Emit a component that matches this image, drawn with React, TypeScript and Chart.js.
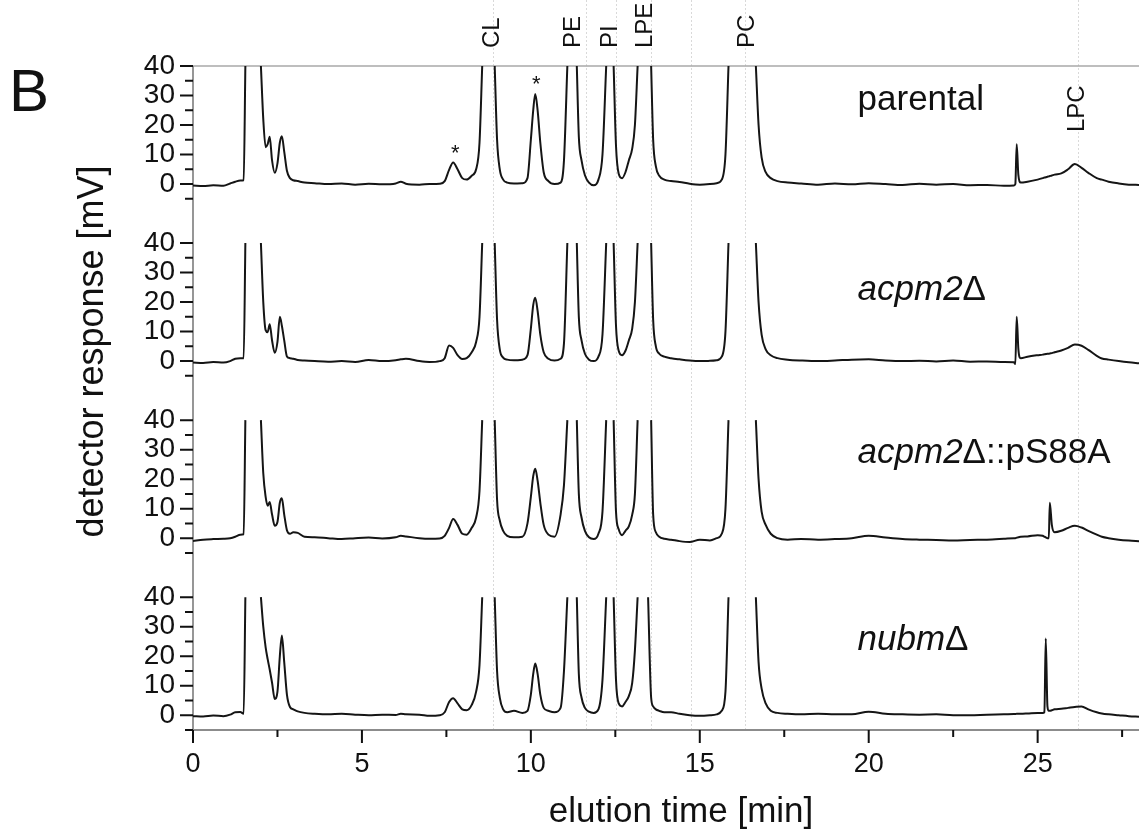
import React, { useEffect, useRef } from "react";
import { Chart, registerables } from "chart.js";

Chart.register(...registerables);

const FONT = '"Liberation Sans", Arial, Helvetica, sans-serif';

// elution time grid [min]
const time = [
  0, 0.3, 0.6, 0.9, 1.1, 1.25, 1.4, 1.5, 1.55,
  1.8,
  2.01, 2.08, 2.15, 2.21, 2.27, 2.34, 2.42, 2.5, 2.57, 2.63, 2.7, 2.78, 2.87, 2.97, 3.1, 3.3, 3.6,
  4.0, 4.4, 4.8, 5.2, 5.6, 6.0, 6.15, 6.3, 6.7, 7.0, 7.3,
  7.45, 7.58, 7.7, 7.83, 7.97, 8.1, 8.25, 8.38, 8.48, 8.56,
  8.75,
  8.93, 9.0, 9.08, 9.18, 9.3, 9.5, 9.75, 9.9, 10.0, 10.07, 10.13, 10.2, 10.28, 10.38, 10.52, 10.7, 10.88, 10.98, 11.08,
  11.22,
  11.36, 11.42, 11.5, 11.6, 11.72, 11.86, 12.0, 12.12, 12.23,
  12.34,
  12.45, 12.52, 12.6, 12.7, 12.8, 12.9, 13.0, 13.08, 13.16,
  13.36,
  13.47, 13.56, 13.62, 13.7, 13.8, 13.95, 14.15, 14.4, 14.7, 15.0, 15.3, 15.5, 15.65, 15.76, 15.85,
  16.25,
  16.66, 16.74, 16.83, 16.95, 17.1, 17.3, 17.6, 18.0, 18.5, 19.0, 19.5, 20.0, 20.5, 21.0, 21.5, 22.0, 22.5, 23.0, 23.5, 24.0, 24.3,
  24.34, 24.38, 24.43, 24.5, 24.7, 25.0, 25.15, 25.2, 25.24, 25.29, 25.33, 25.36, 25.42, 25.5,
  25.7, 25.9, 26.1, 26.3, 26.5, 26.75, 26.9, 27.1, 27.4, 27.7, 28.0,
];

// detector response [mV]; null = off scale (above 40 mV)
const parental = [
  -0.5, -0.7, -0.4, -0.6, 0.2, 0.8, 1.2, 1.3, 40,
  null,
  40, 22, 12.5, 13.5, 16, 8, 3.8, 7, 14, 16.2, 11, 4.5, 2, 1.3, 1, 0.5, 0.3,
  0, 0.2, -0.2, 0.1, -0.1, 0.2, 0.8, 0.1, -0.2, 0, 0.1,
  1, 4.8, 7.3, 5, 2, 1.5, 2.8, 5, 14, 40,
  null,
  40, 15, 5, 1.5, 0.5, 0.2, 0.3, 2, 15, 25, 30.5, 25, 14, 4, 1, 0, 0.5, 8, 40,
  null,
  40, 16, 8, 3, 0.5, -0.4, 1.5, 10, 40,
  null,
  40, 13, 3.5, 2, 4, 8, 12, 20, 40,
  null,
  null, 40, 15, 6, 2.8, 1.5, 1, 0.7, 0.1, -0.2, 0, 0.3, 1.5, 10, 40,
  null,
  40, 20, 9, 4, 2, 1, 0.5, 0.2, -0.2, 0.2, -0.1, 0.3, 0, -0.3, 0.1, -0.2, 0, -0.4, -0.3, -0.6, -0.5,
  0, 13.5, 3, 0.5, 0.8, 1.5, 2, 2.2, 2.3, 2.5, 2.6, 2.7, 2.9, 3.2,
  3.6, 5, 6.8, 5.5, 3.8, 2, 1.5, 0.8, 0.2, -0.2, -0.3,
];

const acpm2 = [
  -0.5, -0.6, -0.3, -0.5, 0, 0.8, 1, 1, 40,
  null,
  40, 20, 10.5, 9.8, 12.5, 7, 2.8, 6.5, 15, 12, 7, 1.6, 1, 0.8, 0.4, 0.2, 0,
  -0.2, 0, -0.3, 0.4, 0, 0.3, 0.6, 0.8, 0, -0.3, 0,
  1, 5.3, 4.5, 2, 0.7, 1, 3, 6.5, 15, 40,
  null,
  40, 14, 4, 1.2, 0.5, 0.3, 0.5, 2, 11, 19, 21.5, 17, 9, 3, 0.8, 0.2, 0.8, 6, 40,
  null,
  40, 15, 7, 2.5, 0.5, 0, 1.5, 9, 40,
  null,
  40, 12, 3.5, 2, 3.5, 7, 11, 20, 40,
  null,
  null, 40, 14, 5, 2.5, 1.5, 1, 0.6, 0.2, 0, 0.1, 0.3, 1.5, 10, 40,
  null,
  40, 20, 9, 4, 2, 1, 0.5, 0.2, 0, 0.2, 0.5, 0.6, 0.2, 0, 0.1, -0.1, 0.2, -0.2, -0.1, -0.3, -0.4,
  -1, 15, 4, 1, 1.5, 2, 2.2, 2.3, 2.4, 2.5, 2.5, 2.6, 2.7, 3,
  3.6, 4.5, 5.6, 5.2, 3.8, 1.8, 0.9, 0.5, 0, -0.4, -0.7,
];

const acpm2pS88A = [
  -1, -0.5, -0.3, -0.2, 0, 0.5, 1.2, 1.3, 40,
  null,
  40, 22, 14, 11, 12.3, 8, 4.2, 5.5, 12, 13.5, 8, 2.7, 1.5, 2, 1.8, 0.5, 0.3,
  0, -0.3, 0, 0.2, -0.1, 0.3, 0.8, 0.6, 0, -0.2, -0.1,
  0.8, 3.5, 6.5, 4.5, 1.5, 1.2, 3.5, 7, 16, 40,
  null,
  40, 13, 6, 2.5, 0.8, 0.3, 0.5, 5, 14, 21, 23.5, 19.5, 12, 4.5, 1.2, 0.5, 8, 18, 40,
  null,
  40, 15, 7, 2.5, 0.3, -0.3, 1.5, 9, 40,
  null,
  40, 9, 3, 1, 2.5, 4, 8, 15, 40,
  null,
  null, 40, 8, 2, 0.5, -0.2, -0.5, -1, -1.3, -0.5, -0.8, 0, 1.5, 10, 40,
  null,
  40, 20, 9, 4.5, 1.5, 0, -0.5, -0.3, -0.5, -0.3, 0, 0.8, 0.2, -0.3, -0.5, -0.6, -0.8, -0.6, -0.5, -0.2, 0,
  0, 0.2, 0.3, 0.5, 0.6, 1, 0.8, 0.5, 0.3, 0, 0, 12, 4.5, 2,
  2.5, 3.5, 4.2, 3.6, 2.5, 1.2, 0.5, 0, -0.5, -0.8, -1,
];

const nubm = [
  -0.3, -0.4, -0.1, -0.3, 0.2, 1, 1.1, 0.5, 40,
  null,
  40, 30, 23, 19, 15.5, 11, 5.5, 8, 20, 27, 18, 7, 2.8, 2, 1.3, 0.8, 0.5,
  0.3, 0.5, 0.2, 0, 0.2, 0.1, 0.5, 0.3, 0.2, -0.2, 0,
  1, 4.5, 5.8, 4, 2, 1.7, 3.5, 8, 17, 40,
  null,
  40, 15, 6, 2, 1, 1.5, 0.8, 1.5, 7, 14, 17.5, 14, 7, 2.5, 1.5, 1, 2.5, 15, 40,
  null,
  40, 14, 6, 2.5, 1.2, 0.8, 2, 12, 40,
  null,
  40, 12, 4, 3, 4.5, 6.5, 11, 22, 40,
  null,
  40, 6, 3, 2, 1.5, 1, 1, 0.5, 0, -0.2, 0, 0.3, 1.5, 8, 40,
  null,
  40, 18, 9, 4, 1.5, 0.8, 0.5, 0.3, 0.5, 0.3, 0.3, 1.2, 0.5, 0.3, 0.2, 0.3, 0, 0, 0.2, 0.3, 0.4,
  0.4, 0.5, 0.5, 0.5, 0.6, 0.8, 0.8, 1, 26, 3, 1.5, 1.5, 1.7, 2,
  2.2, 2.5, 2.8, 3, 2, 1, 0.6, 0.3, 0, -0.3, -0.5,
];

const panelSeries = [parental, acpm2, acpm2pS88A, nubm];

// panel labels: parts with italic flag
const panelLabels = [
  [{ t: "parental", i: false }],
  [{ t: "acpm2", i: true }, { t: "Δ", i: false }],
  [{ t: "acpm2", i: true }, { t: "Δ::pS88A", i: false }],
  [{ t: "nubm", i: true }, { t: "Δ", i: false }],
];
const panelLabelTime = 19.67;
const panelLabelValue = [25, 20.7, 25.6, 22];

const PANEL_OFFSET = 60; // mV units between stacked panels
const panelTickValues = [-5, 0, 5, 10, 15, 20, 25, 30, 35, 40];
const panelTickLabels = ["", "0", "", "10", "", "20", "", "30", "", "40"];

const xTickValues = [0, 2.5, 5, 7.5, 10, 12.5, 15, 17.5, 20, 22.5, 25, 27.5];
const xTickLabels = ["0", "", "5", "", "10", "", "15", "", "20", "", "25", ""];

const markerLines = [8.89, 11.64, 12.53, 13.57, 14.73, 16.33, 26.19];
const peakLabels = ["CL", "PE", "PI", "LPE", "PC"];
const peakLabelTimes = [9.05, 11.44, 12.56, 13.6, 16.59];
const lpcLabel = "LPC";
const lpcTime = 26.37;
const lpcValue = 17.6;
const asteriskTimes = [7.76, 10.16];
const asteriskValues = [12.5, 35.6];

const yTicks: { value: number; label: string }[] = [];
for (let k = 3; k >= 0; k--) {
  panelTickValues.forEach((v, i) => {
    yTicks.push({ value: v - PANEL_OFFSET * k, label: panelTickLabels[i] });
  });
}

const decoPlugin = {
  id: "deco",
  beforeDatasetsDraw(chart: any) {
    const { ctx, chartArea: a, scales } = chart;
    const x = scales.x;
    const y = scales.y;
    ctx.save();
    // dotted marker lines
    ctx.strokeStyle = "rgba(170,170,170,0.45)";
    ctx.lineWidth = 1;
    ctx.setLineDash([2, 2]);
    markerLines.forEach((t) => {
      const px = Math.round(x.getPixelForValue(t)) + 0.5;
      ctx.beginPath();
      ctx.moveTo(px, 0);
      ctx.lineTo(px, a.bottom);
      ctx.stroke();
    });
    ctx.setLineDash([]);
    // top frame line
    ctx.strokeStyle = "#a8a8a8";
    ctx.lineWidth = 1.3;
    ctx.beginPath();
    ctx.moveTo(a.left, a.top);
    ctx.lineTo(a.right, a.top);
    ctx.stroke();
    // axis lines
    ctx.strokeStyle = "#8c8c8c";
    ctx.lineWidth = 1.8;
    ctx.beginPath();
    ctx.moveTo(a.left, a.top);
    ctx.lineTo(a.left, a.bottom);
    ctx.moveTo(a.left, a.bottom);
    ctx.lineTo(a.right, a.bottom);
    ctx.stroke();
    // tick marks
    ctx.strokeStyle = "#111";
    ctx.lineWidth = 2;
    ctx.beginPath();
    yTicks.forEach((o) => {
      const py = y.getPixelForValue(o.value);
      const len = o.label ? 13 : 8;
      ctx.moveTo(a.left - len, py);
      ctx.lineTo(a.left, py);
    });
    xTickValues.forEach((t, i) => {
      const px = x.getPixelForValue(t);
      const len = xTickLabels[i] ? 13 : 7;
      ctx.moveTo(px, a.bottom);
      ctx.lineTo(px, a.bottom + len);
    });
    ctx.stroke();
    ctx.restore();
  },
  afterDraw(chart: any) {
    const { ctx, chartArea: a, scales } = chart;
    const x = scales.x;
    const y = scales.y;
    ctx.save();
    ctx.fillStyle = "#111";
    ctx.textBaseline = "alphabetic";
    // panel letter
    ctx.font = `60px ${FONT}`;
    ctx.textAlign = "left";
    ctx.fillText("B", 9, 111);
    // y axis title
    ctx.save();
    ctx.translate(103, 351.5);
    ctx.rotate(-Math.PI / 2);
    ctx.textAlign = "center";
    ctx.font = `36px ${FONT}`;
    ctx.fillText("detector response [mV]", 0, 0);
    ctx.restore();
    // x axis title
    ctx.font = `35px ${FONT}`;
    ctx.textAlign = "center";
    ctx.fillText("elution time [min]", 681, 822);
    // peak labels
    ctx.font = `24px ${FONT}`;
    peakLabels.forEach((lab, i) => {
      const px = x.getPixelForValue(peakLabelTimes[i]);
      ctx.save();
      ctx.translate(px, a.top - 18);
      ctx.rotate(-Math.PI / 2);
      ctx.textAlign = "left";
      ctx.fillText(lab, 0, 0);
      ctx.restore();
    });
    ctx.save();
    ctx.translate(x.getPixelForValue(lpcTime), y.getPixelForValue(lpcValue));
    ctx.rotate(-Math.PI / 2);
    ctx.textAlign = "left";
    ctx.fillText(lpcLabel, 0, 0);
    ctx.restore();
    // asterisks
    ctx.font = `22px ${FONT}`;
    ctx.textAlign = "center";
    asteriskTimes.forEach((t, i) => {
      ctx.fillText("*", x.getPixelForValue(t), y.getPixelForValue(asteriskValues[i]) + 12.5);
    });
    // panel names
    panelLabels.forEach((parts, k) => {
      let px = x.getPixelForValue(panelLabelTime);
      const py = y.getPixelForValue(panelLabelValue[k] - PANEL_OFFSET * k);
      ctx.textAlign = "left";
      parts.forEach((p) => {
        ctx.font = `${p.i ? "italic " : ""}35px ${FONT}`;
        ctx.fillText(p.t, px, py);
        px += ctx.measureText(p.t).width;
      });
    });
    ctx.restore();
  },
};

export default function App() {
  const ref = useRef<HTMLCanvasElement | null>(null);
  useEffect(() => {
    if (!ref.current) return;
    const datasets = panelSeries.map((vals, k) => ({
      label: ["parental", "acpm2Δ", "acpm2Δ::pS88A", "nubmΔ"][k],
      data: time.map((t, i) => ({
        x: t,
        y: vals[i] === null ? null : (vals[i] as number) - PANEL_OFFSET * k,
      })),
      borderColor: "#151515",
      borderWidth: 2,
      pointRadius: 0,
      spanGaps: false,
      cubicInterpolationMode: "monotone" as const,
      clip: false as any,
    }));
    const chart = new Chart(ref.current, {
      type: "line",
      data: { datasets },
      options: {
        animation: false,
        responsive: false,
        maintainAspectRatio: false,
        devicePixelRatio: 1,
        parsing: false as any,
        layout: { padding: { top: 66, left: 0, right: 0, bottom: 0 } },
        plugins: { legend: { display: false }, tooltip: { enabled: false } },
        scales: {
          x: {
            type: "linear",
            min: 0,
            max: 28,
            afterBuildTicks: (s: any) => {
              s.ticks = xTickValues.map((v) => ({ value: v }));
            },
            afterFit: (s: any) => {
              s.height = 105;
            },
            ticks: {
              autoSkip: false,
              maxRotation: 0,
              padding: 5,
              color: "#111",
              font: { family: FONT, size: 27 },
              callback: (_v: any, i: number) => xTickLabels[i],
            },
            grid: { display: false, drawTicks: true, tickLength: 13 },
            border: { display: false },
          },
          y: {
            type: "linear",
            min: -5 - PANEL_OFFSET * 3,
            max: 40,
            afterBuildTicks: (s: any) => {
              s.ticks = yTicks.map((o) => ({ value: o.value }));
            },
            afterFit: (s: any) => {
              s.width = 193;
            },
            ticks: {
              autoSkip: false,
              padding: 5,
              color: "#111",
              font: { family: FONT, size: 28 },
              callback: (_v: any, i: number) => yTicks[i].label,
            },
            grid: { display: false, drawTicks: true, tickLength: 13 },
            border: { display: false },
          },
        },
      },
      plugins: [decoPlugin],
    });
    return () => chart.destroy();
  }, []);
  return (
    <div style={{ position: "fixed", left: 0, top: 0, width: 1139, height: 835, background: "#fff" }}>
      <canvas ref={ref} width={1139} height={835} style={{ display: "block", width: 1139, height: 835 }} />
    </div>
  );
}
